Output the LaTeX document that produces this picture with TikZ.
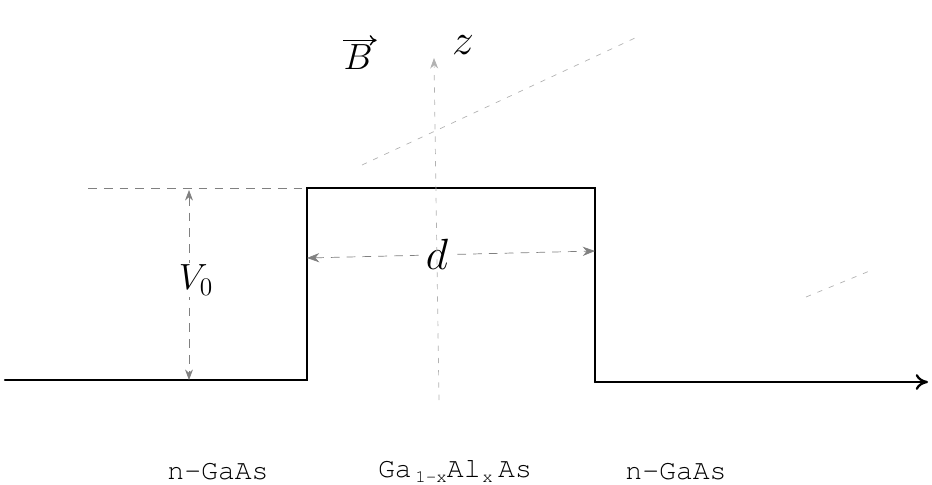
\documentclass[tikz,border=0pt]{standalone}
\usepackage[T1,TU]{fontenc}
\usepackage{amsmath}
\usetikzlibrary{
	arrows.meta,
	calc
}
\newcommand{\courierfont}{\fontencoding{T1}\fontfamily{pcr}\selectfont}
\newcommand{\lowsub}[1]{\raisebox{-0.5ex}{\fontsize{10}{11}\selectfont #1}}

\begin{document}
\begin{tikzpicture}[x=0.02cm, y=-0.02cm,
		band/.style={line width=1.3pt, line cap=round},
		guide/.style={gray, thin, dashed, dash pattern=on 5pt off 4pt},
		faint/.style={gray!60, thin, dash pattern=on 3pt off 4pt},
		layer/.style={font=\courierfont\fontsize{16}{18}\selectfont},
		hand/.style={font=\huge},
		bighand/.style={font=\Huge}]
		\useasboundingbox (0,0) rectangle (932,484);
		% potential profile
		\coordinate (L0) at (5,380);
		\coordinate (L1) at (307,380);
		\coordinate (T0) at (307,188);
		\coordinate (T1) at (595,188);
		\coordinate (R0) at (595,382);
		\coordinate (R1) at (928,382);
		\coordinate (Dl) at (88,188);
		\draw[band] (L0)--(L1)--(T0)--(T1)--(R0);
		\draw[band, -{To[length=7pt, width=9pt]}] (R0)--(R1);
		\draw[guide] (Dl)--(T0);
		% barrier height
		\coordinate (Vt) at (189,190);
		\coordinate (Vb) at (189,380);
		\draw[guide, {Stealth[length=6pt]}-{Stealth[length=6pt]}] (Vt)--(Vb);
		\node[hand, fill=white, inner sep=1pt] (V) at (196,280) {$V_{\scriptstyle 0}$};
		% barrier width
		\coordinate (Wl) at (307,258);
		\coordinate (Wr) at (595,251);
		\draw[guide, {Stealth[length=7pt]}-{Stealth[length=7pt]}] (Wl)--(Wr);
		\node[bighand, fill=white, inner sep=3pt] (d) at (437,254) {$d$};
		% z axis and field
		\coordinate (Zb) at (439,400);
		\coordinate (Zt) at (434,58);
		\draw[faint, -{Stealth[length=6pt]}] (Zb)--(Zt);
		\node[bighand] (z) at (463,45) {$z$};
		\node[hand] (B) at (358,57) {$B$};
		\draw[line width=0.8pt, -{To[length=4pt, width=6pt]}] ($(B.north west)+(6,2)$)--($(B.north east)+(-2,2)$);
		\coordinate (F0) at (362,165);
		\coordinate (F1) at (635,38);
		\coordinate (F2) at (806,297);
		\coordinate (F3) at (872,270);
		\draw[faint] (F0)--(F1);
		\draw[faint] (F2)--(F3);
		% layers
		\node[layer] (nl) at (218,471) {n-GaAs};
		\node[layer] (bar) at (455,471) {Ga\kern2pt\lowsub{1-x}Al\kern1pt\lowsub{x}\kern3pt As};
		\node[layer] (nr) at (676,471) {n-GaAs};
	\end{tikzpicture}
\end{document}
